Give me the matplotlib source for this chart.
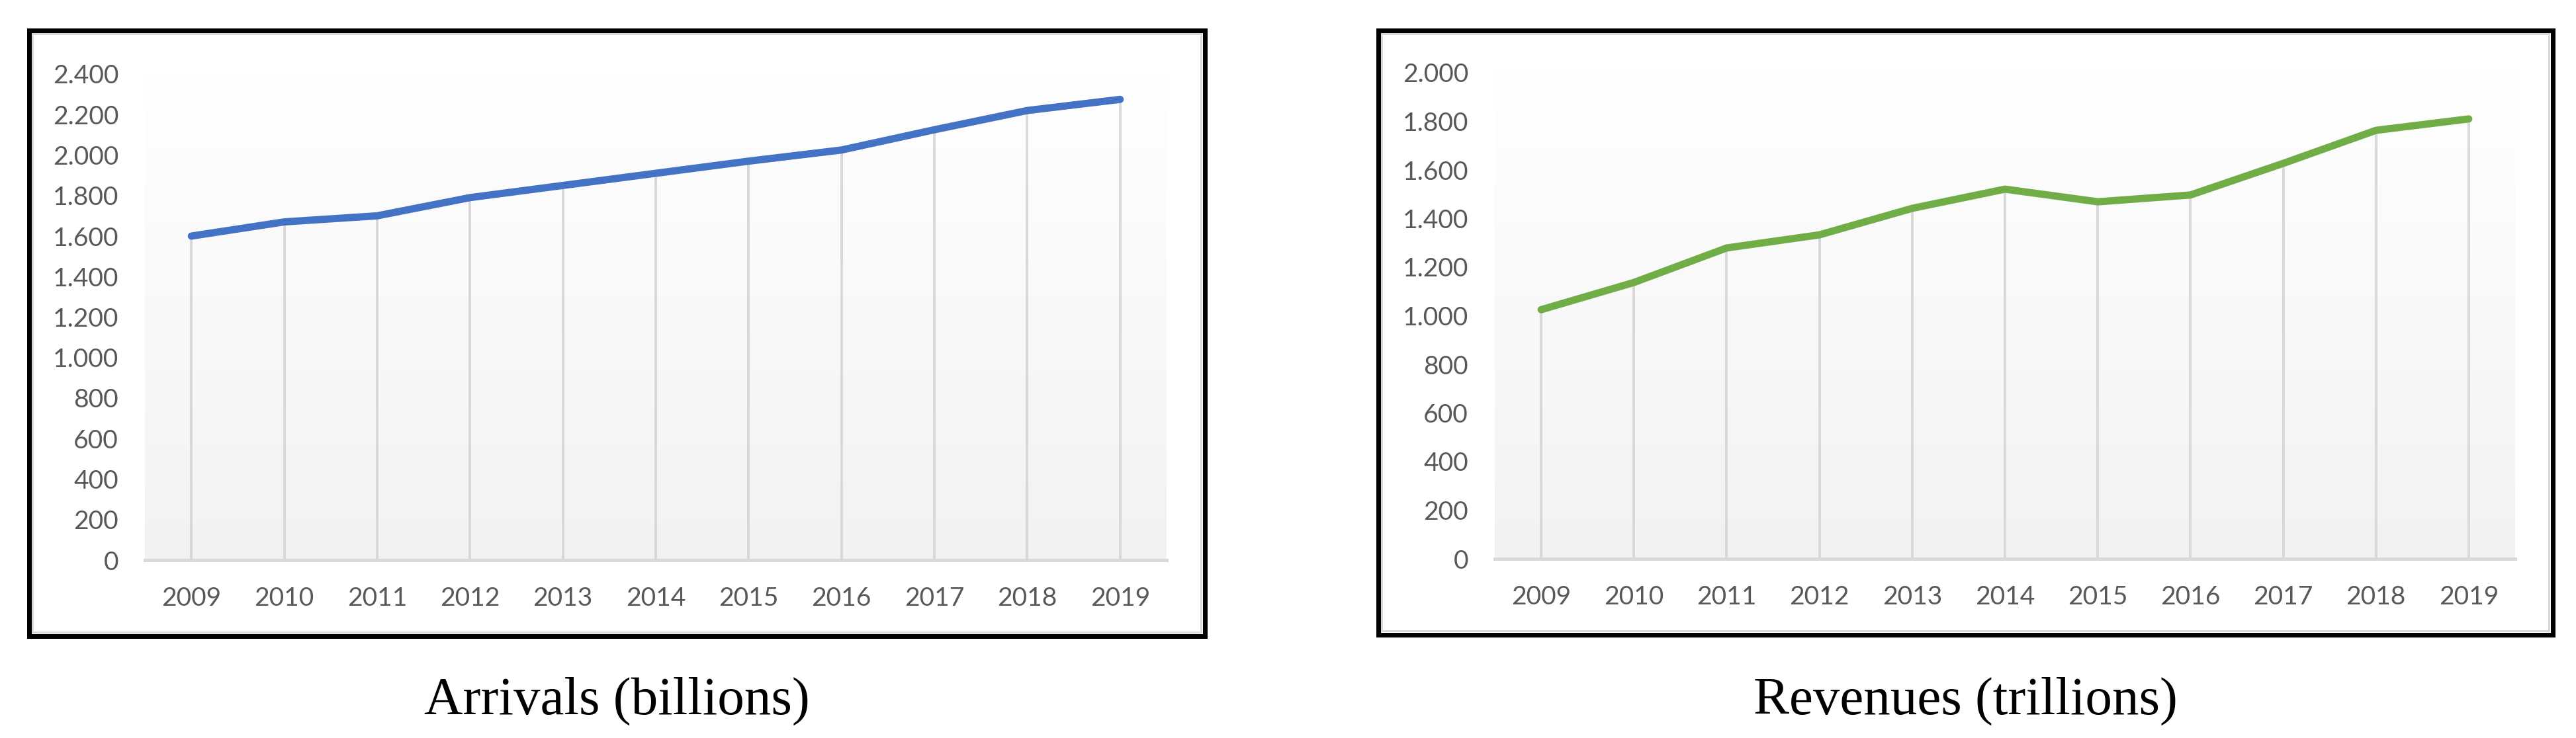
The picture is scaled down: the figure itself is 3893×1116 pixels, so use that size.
import numpy as np
import matplotlib.pyplot as plt
from matplotlib.patches import Rectangle
from matplotlib.colors import LinearSegmentedColormap
from matplotlib.ticker import FuncFormatter, MultipleLocator

years = [2009, 2010, 2011, 2012, 2013, 2014, 2015, 2016, 2017, 2018, 2019]
arrivals = [1600, 1670, 1700, 1790, 1850, 1910, 1970, 2025, 2125, 2220, 2275]
revenues = [1025, 1137, 1279, 1333, 1442, 1521, 1469, 1497, 1627, 1763, 1810]

W, H = 3893, 1116
fig = plt.figure(figsize=(W / 100, H / 100), dpi=100)
PT = 72 / 100  # points per pixel


def box(x0, y0, x1, y1):
    # pixel box (top-left origin) -> figure fraction [left, bottom, width, height]
    return [x0 / W, 1 - y1 / H, (x1 - x0) / W, (y1 - y0) / H]


def frame_rect(x0, y0, x1, y1, inset, **kw):
    return Rectangle(((x0 + inset) / W, 1 - (y1 - inset) / H),
                     (x1 - x0 - 2 * inset) / W, (y1 - y0 - 2 * inset) / H,
                     transform=fig.transFigure, fill=False, **kw)


def dotted(v, pos):
    return f"{int(round(v)):,}".replace(",", ".")


bg = LinearSegmentedColormap.from_list("bg", ["#f2f2f2", "#ffffff"])

panels = [
    dict(ax=(219, 112, 1763, 847), frame=(40, 42, 1824, 965), values=arrivals,
         ymax=2400, color="#4472C4", title="Arrivals (billions)"),
    dict(ax=(2259, 110, 3801, 845), frame=(2079, 42, 3861, 963), values=revenues,
         ymax=2000, color="#70AD47", title="Revenues (trillions)"),
]

for p in panels:
    # chart frame: thin grey excel border inside a thick black one
    fx0, fy0, fx1, fy1 = p["frame"]
    fig.patches.append(frame_rect(fx0, fy0, fx1, fy1, 3.5, edgecolor="black",
                                  linewidth=7 * PT, zorder=5))
    fig.patches.append(frame_rect(fx0, fy0, fx1, fy1, 9, edgecolor="#d9d9d9",
                                  linewidth=3 * PT, zorder=4))

    ax = fig.add_axes(box(*p["ax"]))
    ax.set_facecolor("none")
    ax.imshow(np.linspace(0, 1, 256).reshape(-1, 1), cmap=bg, origin="lower",
              extent=(2008.5, 2019.5, 0, p["ymax"]), aspect="auto", zorder=0)
    ax.vlines(years, 0, p["values"], color="#d9d9d9", linewidth=4 * PT, zorder=1)
    ax.plot(years, p["values"], color=p["color"], linewidth=11 * PT,
            solid_capstyle="round", solid_joinstyle="round", zorder=3)

    ax.set_xlim(2008.5, 2019.5)
    ax.set_ylim(0, p["ymax"])
    ax.set_xticks(years)
    ax.yaxis.set_major_locator(MultipleLocator(200))
    ax.yaxis.set_major_formatter(FuncFormatter(dotted))
    ax.tick_params(length=0, pad=40 * PT, labelsize=39 * PT, labelcolor="#595959")
    for lab in ax.get_xticklabels() + ax.get_yticklabels():
        lab.set_fontfamily("Lato")
    for s in ["top", "left", "right"]:
        ax.spines[s].set_visible(False)
    ax.spines["bottom"].set_color("#d9d9d9")
    ax.spines["bottom"].set_linewidth(5 * PT)
    ax.spines["bottom"].set_zorder(2)

    cx = (fx0 + fx1) / 2 / W
    fig.text(cx, 1 - 1080 / H, p["title"], ha="center", va="baseline",
             fontsize=81 * PT, family="Liberation Serif", color="black")

fig.savefig("out.png", dpi=100, facecolor="white")
